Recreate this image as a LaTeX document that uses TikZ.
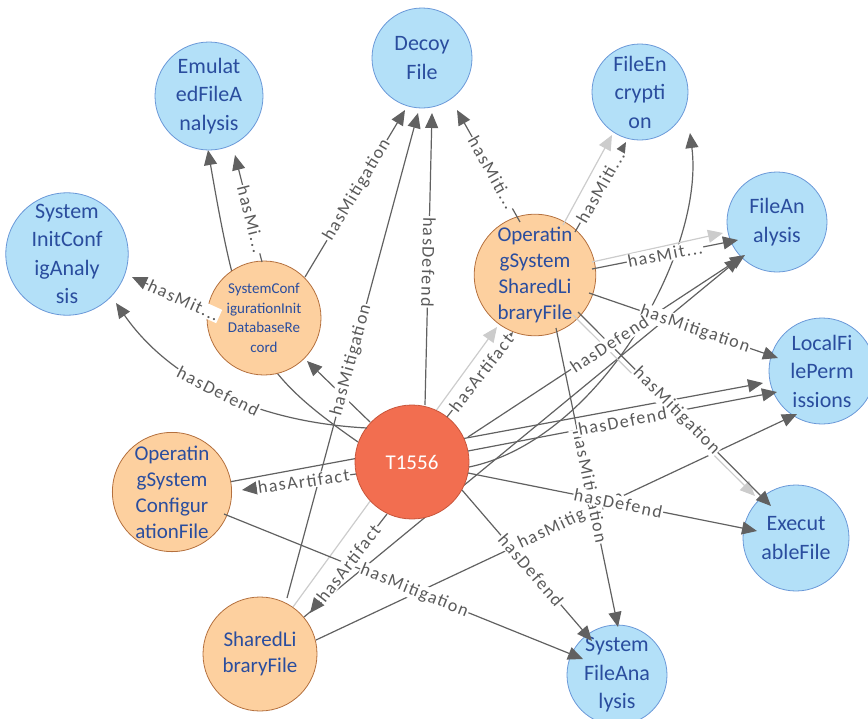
\documentclass[tikz,border=0pt]{standalone}
\usepackage{fontspec}
\setmainfont{Carlito}
\newfontfamily\lblfont[LetterSpace=8]{Carlito}
\usetikzlibrary{arrows.meta,calc}
\pgfdeclarelayer{background}
\pgfsetlayers{background,main}

\definecolor{bfill}{HTML}{B3E0F8}
\definecolor{bline}{HTML}{6A98D8}
\definecolor{ofill}{HTML}{FDD09F}
\definecolor{oline}{HTML}{B4703E}
\definecolor{rfill}{HTML}{F26E50}
\definecolor{rline}{HTML}{C8563C}
\definecolor{ntext}{HTML}{2A4D9E}
\definecolor{edark}{HTML}{616161}
\definecolor{elight}{HTML}{CCCCCC}
\definecolor{ltext}{HTML}{5A5A5A}

\tikzset{
  bnode/.style={circle, draw=bline, fill=bfill, line width=0.8pt, text=ntext,
    align=center, inner sep=0pt, font=\fontsize{22}{28.5}\selectfont},
  onode/.style={circle, draw=oline, fill=ofill, line width=0.8pt, text=ntext,
    align=center, inner sep=0pt, font=\fontsize{21}{26}\selectfont},
  rnode/.style={circle, draw=rline, fill=rfill, line width=0.8pt, text=white,
    align=center, inner sep=0pt, font=\fontsize{21}{26}\selectfont},
  edge/.style={draw=edark, line width=1.2pt, -{Triangle[length=15pt,width=13pt]}},
  ledge/.style={edge, draw=elight},
  lbl/.style={fill=white, inner sep=1pt, text=ltext, sloped,
    font=\lblfont\fontsize{18}{18}\selectfont},
}

% two passes: first all connector lines, then all connector labels on top
\newif\iflabelpass
\newcommand\lnk[4]{\iflabelpass\path #2 node[lbl,#3]{#4};\else\draw[#1] #2;\fi}
\newcommand\bare[2]{\iflabelpass\else\draw[#1] #2;\fi}

\newcommand\alledges{%
  \lnk{edge}{($(scidr)+(-2,-56)$) -- ($(emul)+(26,59)$)}{pos=.40}{hasMi...}
  \lnk{edge}{($(t)+(-45,-34)$) .. controls (253,422) and (168,378) .. ($(sica)+(49,49)$)}{pos=.5}{hasDefend}
  \lnk{edge}{($(scidr)+(-57,-7)$) -- ($(sica)+(65,23)$)}{pos=.31}{hasMit...}
  \lnk{edge}{($(scidr)+(41,-41)$) -- ($(decoy)+(-17,52)$)}{pos=.52}{hasMitigation}
  \lnk{edge}{($(slf)+(27,-56)$) -- ($(decoy)+(-4,55)$)}{pos=.49}{hasMitigation}
  \lnk{edge}{($(t)+(13,-57)$) -- ($(decoy)+(10,55)$)}{pos=.49,rotate=180}{hasDefend}
  \bare{edge}{($(t)+(-42,-40)$) -- ($(scidr)+(43,43)$)}
  \lnk{edge}{($(t)+(-56,12)$) -- ($(oscf)+(70,-2)$)}{pos=.46}{hasArtifact}
  \lnk{edge}{($(oscf)+(52,22)$) -- ($(sfa)+(-34,-16)$)}{pos=.53}{hasMitigation}
  \lnk{edge}{($(t)+(-25,52)$) -- ($(slf)+(50,-41)$)}{pos=.5}{hasArtifact}
  \bare{edge}{($(t)+(57,5)$) .. controls (600,440) and (705,250) .. ($(fenc)+(50,41)$)}
  \lnk{edge}{($(osslf)+(-15,-53)$) -- ($(decoy)+(35,52)$)}{pos=.44}{hasMiti...}
  \bare{ledge}{($(osslf)+(28,-50)$) -- ($(fenc)+(-28,43)$)}
  \lnk{edge}{($(osslf)+(40,-43)$) -- ($(fenc)+(-14,50)$)}{pos=.5}{hasMiti...}
  \bare{ledge}{($(osslf)+(57,-13)$) -- ($(fa)+(-54,11)$)}
  \lnk{edge}{($(osslf)+(57,-6)$) -- ($(fa)+(-39,18)$)}{pos=.5}{hasMit...}
  \lnk{edge}{($(slf)+(56,-14)$) -- ($(lfp)+(-25,43)$)}{pos=.53}{hasMitigation}
  \lnk{edge}{($(osslf)+(21,53)$) -- ($(sfa)+(1,-48)$)}{pos=.53}{hasMitigation}
  \lnk{edge}{($(t)+(56,11)$) -- ($(exe)+(-39,-7)$)}{pos=.52}{hasDefend}
  \lnk{edge}{($(t)+(50,28)$) -- ($(sfa)+(-25,-34)$)}{pos=.53}{hasDefend}
  \lnk{edge}{($(osslf)+(54,18)$) -- ($(lfp)+(-44,-13)$)}{pos=.56}{hasMitigation}
  \bare{ledge}{($(osslf)+(38,40)$) -- ($(exe)+(-41,-42)$)}
  \lnk{edge}{($(osslf)+(43,37)$) -- ($(exe)+(-25,-32)$)}{pos=.51}{hasMitigation}
  \lnk{edge}{($(t)+(56,-11)$) -- ($(lfp)+(-45,21)$)}{pos=.5}{hasDefend}
  \lnk{edge}{($(t)+(56,-25)$) -- ($(fa)+(-32,33)$)}{pos=.51}{hasDefend}
  \lnk{edge}{($(t)+(35,-45)$) -- ($(osslf)+(-22,57)$)}{pos=.52}{hasArtifact}
}

\begin{document}
\begin{tikzpicture}[x=1pt,y=-1pt]
  \clip (0,0) rectangle (868,718);

  % technique nodes (blue)
  \node[bnode, minimum size=100pt] (decoy) at (422,58) {Decoy\\File};
  \node[bnode, minimum size=108pt] (emul) at (209,96) {Emulat\\edFileA\\nalysis};
  \node[bnode, minimum size=110pt] (sica) at (67,254) {System\\InitConf\\igAnaly\\sis};
  \node[bnode, minimum size=96pt] (fenc) at (640,92) {FileEn\\crypti\\on};
  \node[bnode, minimum size=100pt] (fa) at (777,222) {FileAn\\alysis};
  \node[bnode, minimum size=106pt] (lfp) at (822,371) {LocalFi\\lePerm\\issions};
  \node[bnode, minimum size=106pt] (exe) at (796,538) {Execut\\ableFile};
  \node[bnode, minimum size=100pt] (sfa) at (617,675) {System\\FileAna\\lysis};

  % artifact nodes (orange)
  \node[onode, minimum size=114pt, font=\fontsize{15}{19.5}\selectfont] (scidr) at (264,318)
    {SystemConf\\igurationInit\\DatabaseRe\\cord};
  \node[onode, minimum size=114pt] (osslf) at (535,275) {Operatin\\gSystem\\SharedLi\\braryFile};
  \node[onode, minimum size=114pt] (oscf) at (172,492) {Operatin\\gSystem\\Configur\\ationFile};
  \node[onode, minimum size=114pt] (slf) at (260,654) {SharedLi\\braryFile};

  % attack technique
  \node[rnode, minimum size=114pt] (t) at (412,462) {T1556};

  % connectors running behind other nodes
  \begin{pgfonlayer}{background}
    \draw[edge] ($(t)+(-54,-20)$) .. controls (256,371) and (241,342) .. ($(emul)+(-1,54)$);
    \draw[edge] ($(oscf)+(57,-10)$) -- ($(lfp)+(-59,12)$);
    \draw[edge] ($(slf)+(44,-37)$) -- ($(fa)+(-37,36)$);
    \draw[ledge] ($(slf)+(33,-47)$) -- ($(osslf)+(-38,52)$);
  \end{pgfonlayer}

  \labelpassfalse \alledges
  \labelpasstrue \alledges
\end{tikzpicture}
\end{document}
